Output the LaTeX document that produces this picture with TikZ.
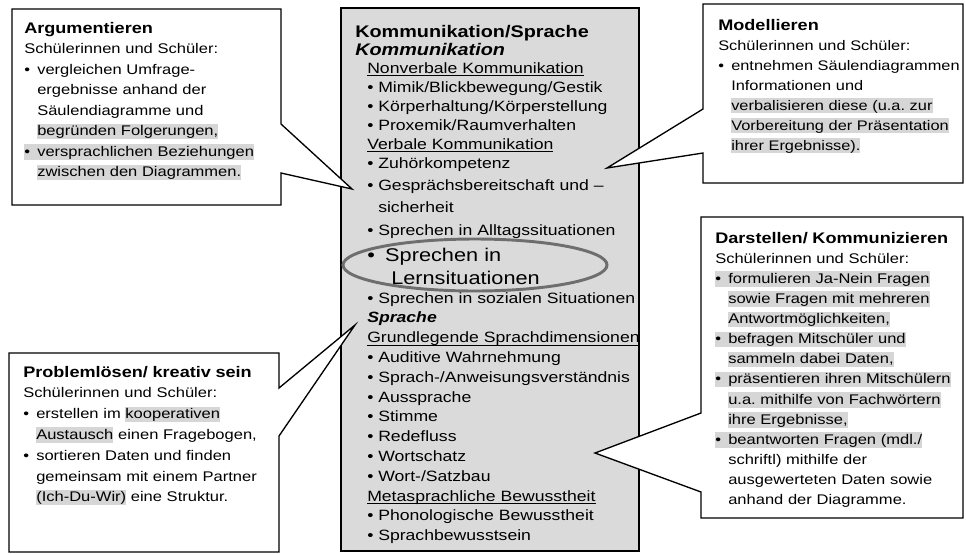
\documentclass[tikz,border=0pt]{standalone}
\usepackage{fontspec}
\setmainfont{Liberation Sans}[FakeStretch=1.18]
\usepackage{xcolor}
\definecolor{boxgray}{HTML}{DADADA}
\definecolor{hlgray}{HTML}{D6D6D6}
\definecolor{ringgray}{HTML}{6E6E6E}
\frenchspacing
\newsavebox{\ulbox}
\newcommand{\ulin}[1]{\leavevmode\sbox\ulbox{#1}\rlap{\rule[-2.4pt]{\wd\ulbox}{0.6pt}}\usebox\ulbox}
\newcommand{\hl}[1]{{\setlength{\fboxsep}{0pt}\colorbox{hlgray}{\rule[-2.6pt]{0pt}{11.6pt}#1}}}
\newcommand{\cbul}{\makebox[8.25pt][l]{•}}
\newcommand{\cind}{\hspace*{8.25pt}}
\newcommand{\sbul}{\makebox[9.75pt][l]{•}}
\newcommand{\sind}{\hspace*{9.75pt}}
\newcommand{\ttl}[1]{{\fontsize{11.5pt}{15.4pt}\selectfont\bfseries #1}}
\tikzset{
  callout/.style={draw=black,fill=white,line width=1pt},
  sidetext/.style={anchor=base west,inner sep=0pt,text width=200pt,align=left},
  midtext/.style={anchor=base west,inner sep=0pt,text width=220pt,align=left}
}
\begin{document}
\begin{tikzpicture}[x=0.75pt,y=-0.75pt]
\useasboundingbox (0,0) rectangle (966,554);
%
\draw[line width=1pt,fill=boxgray] (341,8) rectangle (639,551);
%
\draw[callout] (12,9) -- (281,9) -- (281,124) -- (352,189) -- (281,173) -- (281,205) -- (12,205) -- cycle;
\draw[callout] (9,353) -- (279,353) -- (279,388) -- (355,325) -- (279,436) -- (279,552) -- (9,552) -- cycle;
\draw[callout] (703,4) -- (963,4) -- (963,183) -- (703,183) -- (703,153) -- (607,168) -- (703,109) -- cycle;
\draw[callout] (701,217) -- (963,217) -- (963,518) -- (701,518) -- (701,492) -- (595,453) -- (701,413) -- cycle;
%
\node[sidetext,font=\fontsize{10.5pt}{15.4pt}\selectfont] (argu) at (24,33) {\ttl{Argumentieren}\\
Schülerinnen und Schüler:\\
\sbul vergleichen Umfrage-\\
\sind ergebnisse anhand der\\
\sind Säulendiagramme und\\
\sind\hl{begründen Folgerungen,}\\
\hl{\sbul versprachlichen Beziehungen}\\
\sind\hl{zwischen den Diagrammen.}};
%
\node[sidetext,font=\fontsize{10.5pt}{15.6pt}\selectfont] (probl) at (23,377) {\ttl{Problemlösen/ kreativ sein}\\
Schülerinnen und Schüler:\\
\sbul erstellen im \hl{kooperativen}\\
\sind\hl{Austausch} einen Fragebogen,\\
\sbul sortieren Daten und finden\\
\sind gemeinsam mit einem Partner\\
\sind\hl{(Ich-Du-Wir)} eine Struktur.};
%
\node[sidetext,font=\fontsize{10.4pt}{15pt}\selectfont] (model) at (718,30) {\ttl{Modellieren}\\
Schülerinnen und Schüler:\\
\sbul entnehmen Säulendiagrammen\\
\sind Informationen und\\
\sind\hl{verbalisieren diese (u.a. zur}\\
\sind\hl{Vorbereitung der Präsentation}\\
\sind\hl{ihrer Ergebnisse).}};
%
\node[sidetext,font=\fontsize{10.5pt}{15.1pt}\selectfont] (darst) at (715,243) {\ttl{Darstellen/ Kommunizieren}\\
Schülerinnen und Schüler:\\
\hl{\sbul formulieren Ja-Nein Fragen}\\
\sind\hl{sowie Fragen mit mehreren}\\
\sind\hl{Antwortmöglichkeiten,}\\
\hl{\sbul befragen Mitschüler und}\\
\sind\hl{sammeln dabei Daten,}\\
\hl{\sbul präsentieren ihren Mitschülern}\\
\sind\hl{u.a. mithilfe von Fachwörtern}\\
\sind\hl{ihre Ergebnisse,}\\
\hl{\sbul beantworten Fragen (mdl./}\\
\sind schriftl) mithilfe der\\
\sind ausgewerteten Daten sowie\\
\sind anhand der Diagramme.};
%
\node[midtext,font=\fontsize{12.6pt}{13.5pt}\selectfont\bfseries] (komm) at (355,37) {Kommunikation/Sprache\\
\textit{Kommunikation}};
\node[midtext,font=\fontsize{11.2pt}{14.25pt}\selectfont] (nonverb) at (367,73) {\ulin{Nonverbale Kommunikation}\\
\cbul Mimik/Blickbewegung/Gestik\\
\cbul Körperhaltung/Körperstellung\\
\cbul Proxemik/Raumverhalten\\
\ulin{Verbale Kommunikation}\\
\cbul Zuhörkompetenz};
\node[midtext,font=\fontsize{11.2pt}{16.9pt}\selectfont] (gespr) at (367,190) {\cbul Gesprächsbereitschaft und –\\
\cind sicherheit\\
\cbul Sprechen in Alltagssituationen};
\node[midtext,font=\fontsize{13.8pt}{17.25pt}\selectfont] (lernsit) at (367,261) {\makebox[13.5pt][l]{•}Sprechen in\\
\hspace*{18pt}Lernsituationen};
\node[midtext,font=\fontsize{11.2pt}{14.85pt}\selectfont] (sprache) at (367,303) {\cbul Sprechen in sozialen Situationen\\
\textbf{\textit{Sprache}}\\
\ulin{Grundlegende Sprachdimensionen}\\
\cbul Auditive Wahrnehmung\\
\cbul Sprach-/Anweisungsverständnis\\
\cbul Aussprache\\
\cbul Stimme\\
\cbul Redefluss\\
\cbul Wortschatz\\
\cbul Wort-/Satzbau\\
\ulin{Metasprachliche Bewusstheit}\\
\cbul Phonologische Bewusstheit\\
\cbul Sprachbewusstsein};
%
\draw[ringgray,line width=2.2pt] (475,265) ellipse [x radius=132,y radius=26];
\end{tikzpicture}
\end{document}
